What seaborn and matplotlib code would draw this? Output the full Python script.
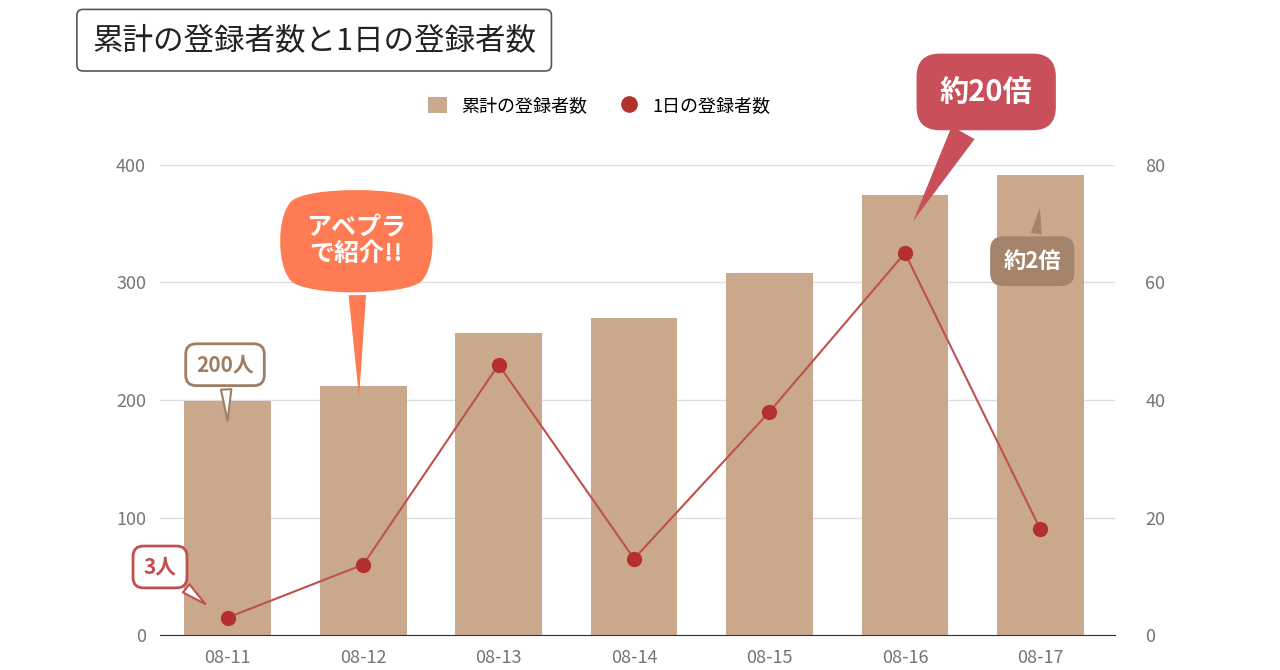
import matplotlib
matplotlib.use("Agg")
import matplotlib.pyplot as plt
from matplotlib.lines import Line2D
from matplotlib.patches import Rectangle
import seaborn as sns
import pandas as pd

plt.rcParams["font.family"] = "Noto Sans CJK JP"

dates = ["08-11", "08-12", "08-13", "08-14", "08-15", "08-16", "08-17"]
total = [199, 212, 257, 270, 308, 374, 391]
daily = [3, 12, 46, 13, 38, 65, 18]

df = pd.DataFrame({"date": dates, "total": total, "daily": daily})

fig = plt.figure(figsize=(12.8, 6.7), dpi=100)
ax = fig.add_axes([0.125, 0.052, 0.746, 0.702])
sns.barplot(data=df, x="date", y="total", color="#c9a88c", width=0.64,
            saturation=1, ax=ax, zorder=2)
ax.set_ylim(0, 400)
ax.set_xlim(-0.5, 6.55)
ax.set_yticks([0, 100, 200, 300, 400])
ax.grid(axis="y", color="#dddddd", lw=1, zorder=0)
ax.set_axisbelow(True)
ax.set_xlabel("")
ax.set_ylabel("")
for s in ["top", "left", "right"]:
    ax.spines[s].set_visible(False)
ax.spines["bottom"].set_color("#333333")
ax.tick_params(length=0, labelsize=13, colors="#757575", pad=10)

ax2 = ax.twinx()
sns.lineplot(x=list(range(len(dates))), y=daily, ax=ax2, color="#c0504d",
             lw=1.5, marker="o", markersize=11, markeredgewidth=0,
             markerfacecolor="#b3302c", legend=False, zorder=3)
ax2.set_ylim(0, 80)
ax2.set_yticks([0, 20, 40, 60, 80])
for s in ["top", "left", "right", "bottom"]:
    ax2.spines[s].set_visible(False)
ax2.tick_params(length=0, labelsize=13, colors="#757575", pad=22)
ax2.set_ylabel("")

# legend
handles = [Rectangle((0, 0), 1, 1, fc="#c9a88c", ec="none"),
           Line2D([], [], ls="none", marker="o", markersize=11, color="#b3302c")]
ax.legend(handles, ["累計の登録者数", "1日の登録者数"], loc="center",
          bbox_to_anchor=(0.46, 1.125), ncol=2, frameon=False, fontsize=13,
          handlelength=1.0, handleheight=1.0, columnspacing=1.8)

# title box
fig.text(0.072, 0.94, "累計の登録者数と1日の登録者数", fontsize=22, color="#222222",
         va="center", ha="left",
         bbox=dict(boxstyle="round,pad=0.5,rounding_size=0.2", fc="white", ec="#555555", lw=1.2))

# callouts
ax.annotate("200人", xy=(0, 180), xytext=(-0.02, 230), ha="center", va="center",
            fontsize=15, color="#9e7f66", fontweight="bold",
            bbox=dict(boxstyle="round,pad=0.5", fc="white", ec="#9e7f66", lw=2),
            arrowprops=dict(arrowstyle="wedge,tail_width=0.5", fc="white", ec="#9e7f66", lw=1.5),
            annotation_clip=False, zorder=5)
ax.annotate("3人", xy=(-0.15, 25), xytext=(-0.5, 58), ha="center", va="center",
            fontsize=15, color="#c0504d", fontweight="bold",
            bbox=dict(boxstyle="round,pad=0.5", fc="white", ec="#c0504d", lw=2),
            arrowprops=dict(arrowstyle="wedge,tail_width=0.5", fc="white", ec="#c0504d", lw=1.5),
            annotation_clip=False, zorder=5)
ax.annotate("アベプラ\nで紹介!!", xy=(0.97, 200), xytext=(0.95, 335), ha="center", va="center",
            fontsize=18, color="white", fontweight="bold", linespacing=1.1,
            bbox=dict(boxstyle="round4,pad=1.2", fc="#ff7b54", ec="none"),
            arrowprops=dict(arrowstyle="wedge,tail_width=0.7", fc="#ff7b54", ec="none"),
            annotation_clip=False, zorder=5)
ax.annotate("約20倍", xy=(5.05, 350), xytext=(5.6, 462), ha="center", va="center",
            fontsize=21, color="white", fontweight="bold",
            bbox=dict(boxstyle="round,pad=0.8", fc="#c9505a", ec="none"),
            arrowprops=dict(arrowstyle="wedge,tail_width=0.9", fc="#c9505a", ec="none"),
            annotation_clip=False, zorder=5)
ax.annotate("約2倍", xy=(6.0, 366), xytext=(5.94, 318), ha="center", va="center",
            fontsize=16, color="white", fontweight="bold",
            bbox=dict(boxstyle="round,pad=0.6", fc="#a5846c", ec="none"),
            arrowprops=dict(arrowstyle="wedge,tail_width=0.5", fc="#a5846c", ec="none"),
            annotation_clip=False, zorder=5)

fig.savefig("out.png", dpi=100)
